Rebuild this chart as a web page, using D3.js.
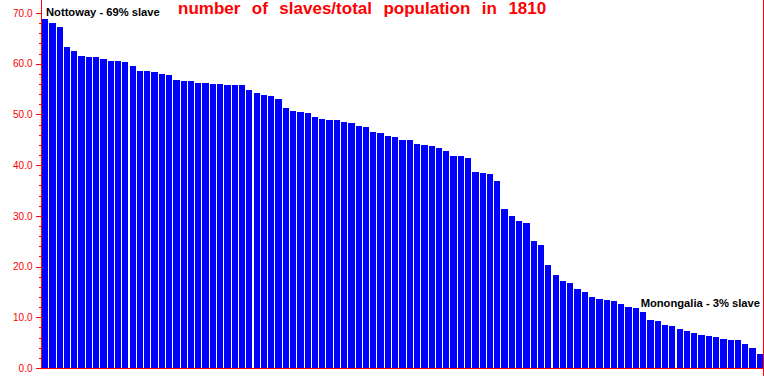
<!DOCTYPE html>
<html>
<head>
<meta charset="utf-8">
<script src="https://cdn.jsdelivr.net/npm/d3@7"></script>
<style>
  body { margin: 0; background: #fff; }
  svg { display: block; font-family: "Liberation Sans", Arial, sans-serif; }
</style>
</head>
<body>
<div id="chart"></div>
<script>
// percent slave, counties sorted high to low
var slavePct = [
  68.8, 68.0, 67.3, 63.3, 62.5, 61.5, 61.3, 61.3, 60.9, 60.5,
  60.5, 60.3, 59.5, 58.5, 58.5, 58.4, 58.0, 57.8, 56.8, 56.6,
  56.6, 56.2, 56.2, 56.0, 56.0, 55.8, 55.8, 55.8, 54.8, 54.2,
  53.8, 53.6, 53.0, 51.3, 50.7, 50.5, 50.3, 49.5, 49.1, 48.9,
  48.9, 48.5, 48.3, 47.7, 47.5, 46.5, 46.3, 45.7, 45.5, 45.0,
  45.0, 44.2, 44.0, 43.8, 43.4, 42.8, 41.8, 41.8, 41.4, 38.6,
  38.4, 38.2, 36.9, 31.3, 30.0, 29.0, 28.6, 25.0, 24.3, 20.3,
  18.3, 17.2, 16.8, 15.6, 15.0, 14.0, 13.6, 13.4, 13.2, 12.6,
  12.0, 11.8, 11.0, 9.5, 9.3, 8.5, 8.3, 7.7, 7.3, 6.9,
  6.5, 6.3, 6.1, 5.7, 5.5, 5.5, 4.7, 3.9, 2.8
];
var counties = slavePct.map(function(d, i) { return "county " + (i + 1); });
var majorTicks = [0, 10, 20, 30, 40, 50, 60, 70];
var minorTicks = [2, 4, 6, 8, 12, 14, 16, 18, 22, 24, 26, 28, 32, 34, 36, 38,
                  42, 44, 46, 48, 52, 54, 56, 58, 62, 64, 66, 68];
var title = "number of slaves/total population in 1810";
var notes = [
  { idx: 0, text: "Nottoway - 69% slave" },
  { idx: 98, text: "Monongalia - 3% slave" }
];

var svgWidth = 764;
var svgHeight = 376;

var svg = d3.select("#chart")
  .append("svg")
  .attr("width", svgWidth)
  .attr("height", svgHeight);

var x = d3.scaleBand()
  .domain(counties)
  .range([42, 763])
  .paddingInner(0.14)
  .paddingOuter(0);

var y = d3.scaleLinear()
  .domain([0, 70])
  .range([368, 13]);

// bars
svg.append("g")
  .selectAll("rect")
  .data(slavePct)
  .enter()
  .append("rect")
  .attr("x", function(d, i) { return x(counties[i]); })
  .attr("width", x.bandwidth())
  .attr("y", function(d) { return y(d); })
  .attr("height", function(d) { return y(0) - y(d); })
  .attr("fill", "#0000ff")
  .attr("shape-rendering", "crispEdges");

// left axis, major + minor ticks
var yAxis = svg.append("g")
  .attr("transform", "translate(41.5,0)")
  .call(d3.axisLeft(y).tickValues(majorTicks).tickSize(6).tickPadding(3)
    .tickFormat(d3.format(".1f")));
var yMinor = svg.append("g")
  .attr("transform", "translate(41.5,0)")
  .call(d3.axisLeft(y).tickValues(minorTicks).tickSize(3).tickFormat(""));

[yAxis, yMinor].forEach(function(g) {
  g.select(".domain").remove();
  g.selectAll("line").attr("stroke", "#ff0000").attr("shape-rendering", "crispEdges");
});
yAxis.selectAll("text")
  .attr("fill", "#ff0000")
  .style("font-size", "10px");

// frame lines
svg.append("line")
  .attr("x1", 41.5).attr("x2", 41.5).attr("y1", 0).attr("y2", 369)
  .attr("stroke", "#ff0000").attr("shape-rendering", "crispEdges");
svg.append("line")
  .attr("x1", 41).attr("x2", 764).attr("y1", 368.5).attr("y2", 368.5)
  .attr("stroke", "#ff0000").attr("shape-rendering", "crispEdges");
svg.append("line")
  .attr("x1", 763.5).attr("x2", 763.5).attr("y1", 0).attr("y2", 376)
  .attr("stroke", "#ff0000").attr("shape-rendering", "crispEdges");

// title, stretched with word spacing to its width in the picture
var t = svg.append("text")
  .attr("x", 178)
  .attr("y", 14)
  .attr("fill", "#ff0000")
  .style("font-size", "17px")
  .style("font-weight", "bold")
  .text(title);
var tw = t.node().getComputedTextLength();
t.style("word-spacing", ((375 - tw) / 6) + "px");

// annotations
svg.append("text")
  .attr("x", 46)
  .attr("y", 16)
  .style("font-size", "11.2px")
  .style("font-weight", "bold")
  .text(notes[0].text);
svg.append("text")
  .attr("x", 760)
  .attr("y", 307)
  .attr("text-anchor", "end")
  .style("font-size", "11.2px")
  .style("font-weight", "bold")
  .text(notes[1].text);
</script>
</body>
</html>
